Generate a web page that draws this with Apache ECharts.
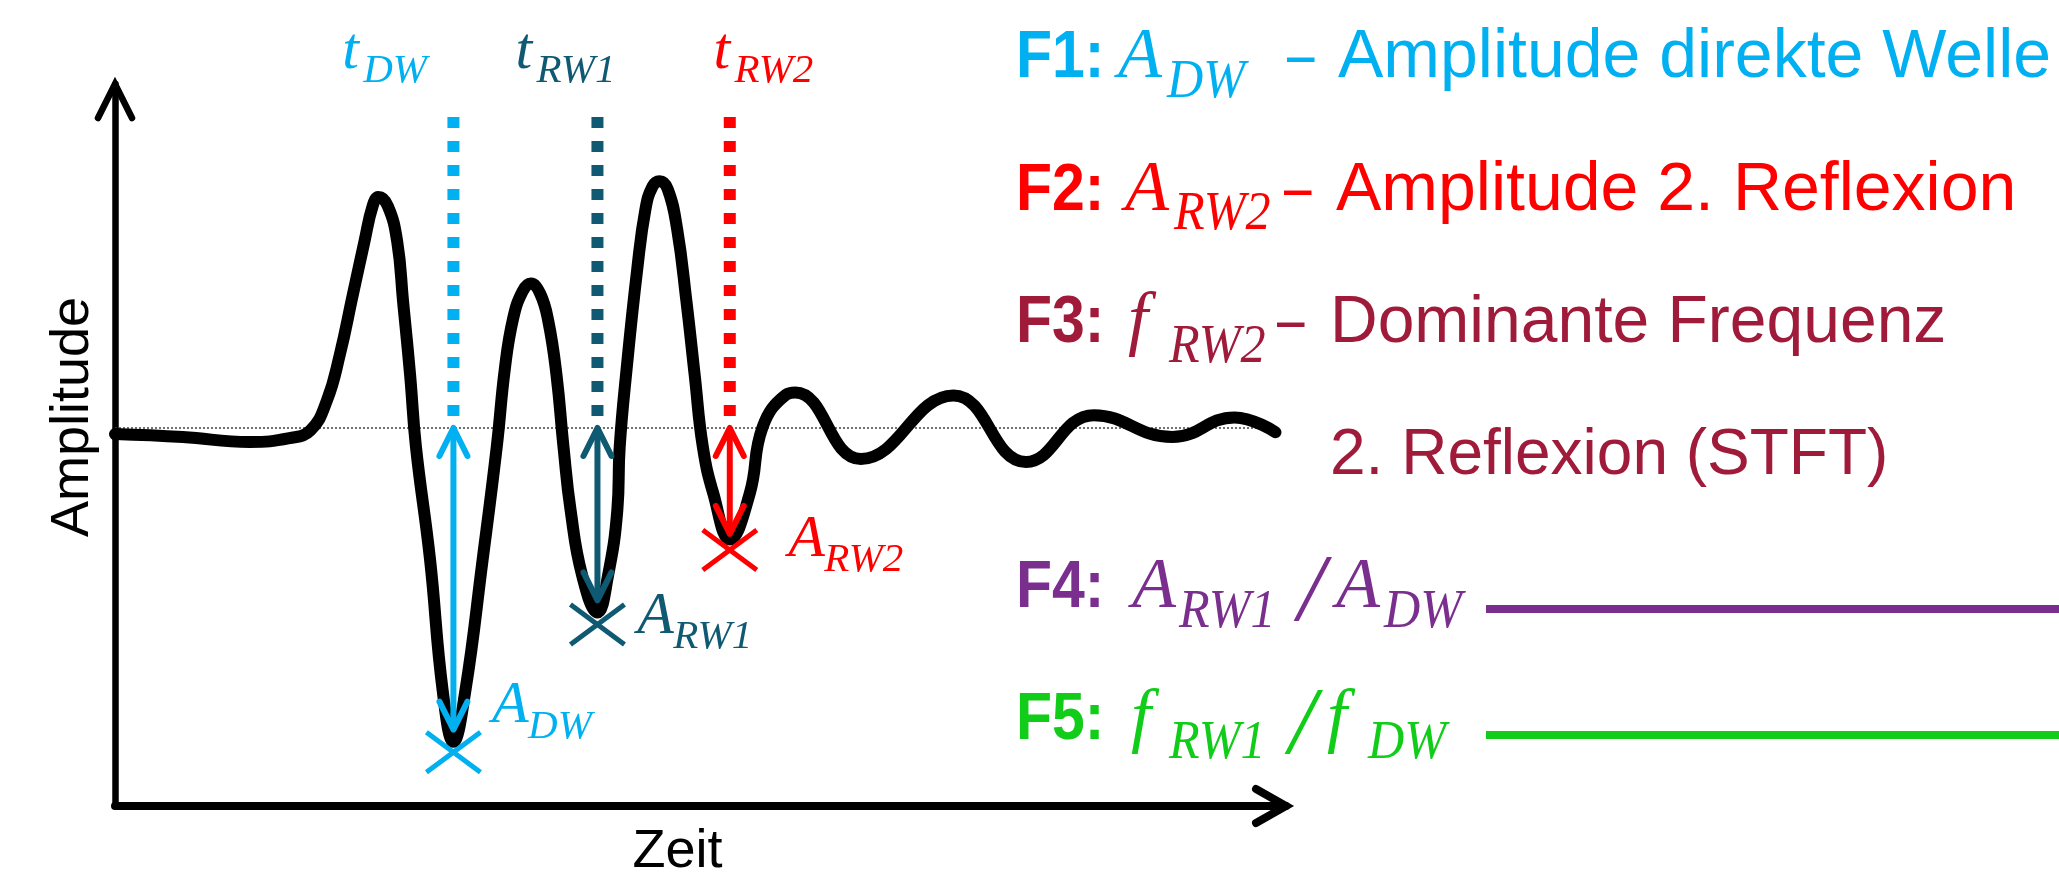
<!DOCTYPE html>
<html><head><meta charset="utf-8">
<script src="https://cdn.jsdelivr.net/npm/echarts@6/dist/echarts.min.js"></script>
<style>html,body{margin:0;padding:0;background:#fff;} #c{width:2059px;height:884px;}</style>
</head><body><div id="c"></div>
<script>
// ---- data ----
const waveTime = [0, 5.8, 11.5, 14.9, 16.7, 18.1, 19.2, 20.3, 21.3, 22.0, 22.5, 23.3, 24.1, 24.6, 25.2, 25.7, 26.9, 28.0, 28.9, 29.9, 31.4, 32.6, 33.3, 34.0, 34.8, 35.5, 36.3, 37.0, 37.7, 38.3, 38.9, 39.9, 41.2, 42.1, 42.9, 43.1, 43.7, 44.6, 45.3, 45.9, 46.5, 47.2, 48.0, 48.8, 49.5, 50.2, 51.1, 52.5, 54.2, 55.3, 57.3, 58.1, 63.7, 71.6, 77.8, 83.6, 90.3, 95.6, 99.1];
const waveAmp = [-1.6, -2.4, -3.7, -2.7, -0.6, 7.3, 19.4, 35.1, 49.3, 58.7, 61.1, 58.7, 49.3, 33.5, 14.1, -5.0, -34.7, -69.9, -83.0, -69.9, -34.7, -5.0, 15.9, 29.0, 36.1, 38.2, 35.6, 28.3, 14.1, -5.0, -21.6, -39.1, -48.8, -39.1, -21.6, -5.0, 15.9, 42.1, 57.9, 63.9, 65.3, 63.2, 52.7, 33.5, 14.1, -5.0, -17.4, -29.5, -17.4, 0.2, 8.8, 9.4, -8.2, 8.6, -9.0, 3.4, -2.4, 2.8, -1.1];
const baselineTime = [0, 99.2];
const baselineAmp = [0, 0];
const pickTime = [28.9, 41.2, 52.5];        // t_DW, t_RW1, t_RW2
const pickArrowEnd = [-79.8, -45.6, -28.0];  // amplitude arrows end
const pickMarkAmp = [-85.8, -52.0, -32.3];   // X markers
const pickTop = 82.3;
const labelMain = ['t', 't', 't', 'A', 'A', 'A'];
const labelSub = ['DW', 'RW1', 'RW2', 'DW', 'RW1', 'RW2'];
const labelTime = [19.4, 34.2, 51.1, 32.2, 44.6, 57.5];
const labelAmp = [94.1, 94.1, 94.1, -79.0, -55.4, -35.0];
const axisX = [0, 100];
const axisY = [-100, 91];

// ---- styles ----
const C_DW = '#00B0F0', C_RW1 = '#0F5A72', C_RW2 = '#FF0000', C_F3 = '#A01A3A', C_F4 = '#7A2F8E', C_F5 = '#12CC1A';
const pickColors = [C_DW, C_RW1, C_RW2];
const labelColors = [C_DW, C_RW1, C_RW2, C_DW, C_RW1, C_RW2];
const SANS = '"Liberation Sans", Arial, sans-serif';
const SERIF = '"Liberation Serif", "Times New Roman", serif';

function mid(base, size, fam) { return base - (fam === SERIF ? 0.338 : 0.347) * size; }
function txt(text, x, base, size, fam, color, styleStr, sx) {
  const f = (styleStr || 'normal normal') + ' ' + size + 'px ' + fam;
  return { type: 'text', silent: true, x: x, y: mid(base, size, fam), scaleX: sx || 1,
    style: { text: text, font: f, fill: color, align: 'left', verticalAlign: 'middle', textAlign: 'left', textVerticalAlign: 'middle' } };
}
const BOLD = 'normal bold', IT = 'italic normal', FB = 67, FBX = 0.88, SUB = 54, SUBX = 0.93, DX = 0.75;

const legend = [
  txt('F1:', 1016, 82, FB, SANS, C_DW, BOLD, FBX),
  txt('A', 1118, 82, 72, SERIF, C_DW, IT),
  txt('DW', 1167, 101, SUB, SERIF, C_DW, IT, SUBX),
  txt('–', 1287, 82, 66, SANS, C_DW, null, DX),
  txt('Amplitude direkte Welle', 1338, 82, 68, SANS, C_DW),

  txt('F2:', 1016, 215, FB, SANS, C_RW2, BOLD, FBX),
  txt('A', 1125, 215, 72, SERIF, C_RW2, IT),
  txt('RW2', 1174, 233, SUB, SERIF, C_RW2, IT, SUBX),
  txt('–', 1284, 215, 66, SANS, C_RW2, null, DX),
  txt('Amplitude 2. Reflexion', 1336, 215, 68, SANS, C_RW2),

  txt('F3:', 1016, 347, FB, SANS, C_F3, BOLD, FBX),
  txt('f', 1128, 347, 72, SERIF, C_F3, IT),
  txt('RW2', 1169, 366, SUB, SERIF, C_F3, IT, SUBX),
  txt('–', 1277, 347, 66, SANS, C_F3, null, DX),
  txt('Dominante Frequenz', 1330, 347, 66, SANS, C_F3),
  txt('2. Reflexion (STFT)', 1330, 479, 64, SANS, C_F3),

  txt('F4:', 1016, 612, FB, SANS, C_F4, BOLD, FBX),
  txt('A', 1132, 612, 72, SERIF, C_F4, IT),
  txt('RW1', 1179, 631, SUB, SERIF, C_F4, IT, SUBX),
  txt('/', 1298, 627, 96, SERIF, C_F4, IT),
  txt('A', 1336, 612, 72, SERIF, C_F4, IT),
  txt('DW', 1384, 631, SUB, SERIF, C_F4, IT, SUBX),
  { type: 'line', silent: true, shape: { x1: 1486, y1: 609, x2: 2059, y2: 609 }, style: { stroke: C_F4, lineWidth: 8 } },

  txt('F5:', 1016, 744, FB, SANS, C_F5, BOLD, FBX),
  txt('f', 1131, 744, 72, SERIF, C_F5, IT),
  txt('RW1', 1169, 762, SUB, SERIF, C_F5, IT, SUBX),
  txt('/', 1289, 760, 96, SERIF, C_F5, IT),
  txt('f', 1327, 744, 72, SERIF, C_F5, IT),
  txt('DW', 1368, 762, SUB, SERIF, C_F5, IT, SUBX),
  { type: 'line', silent: true, shape: { x1: 1486, y1: 735, x2: 2059, y2: 735 }, style: { stroke: C_F5, lineWidth: 8 } }
];

const chart = echarts.init(document.getElementById('c'));
chart.setOption({
  animation: false,
  backgroundColor: '#fff',
  grid: { left: 115, right: 773, top: 84, bottom: 72 },
  xAxis: {
    type: 'value', min: axisX[0], max: axisX[1],
    axisLine: { show: true, onZero: false, lineStyle: { color: '#000', width: 8 } },
    axisTick: { show: false }, axisLabel: { show: false }, splitLine: { show: false },
    name: 'Zeit', nameLocation: 'middle', nameGap: 19,
    nameTextStyle: { fontFamily: SANS, fontSize: 54, color: '#000', padding: [0, 46, 0, 0] }
  },
  yAxis: {
    type: 'value', min: axisY[0], max: axisY[1],
    axisLine: { show: true, onZero: false, lineStyle: { color: '#000', width: 6.5 } },
    axisTick: { show: false }, axisLabel: { show: false }, splitLine: { show: false },
    name: 'Amplitude', nameLocation: 'middle', nameGap: 15, nameRotate: 90,
    nameTextStyle: { fontFamily: SANS, fontSize: 54, color: '#000', padding: [0, 0, 0, 56] }
  },
  graphic: legend,
  series: [
    { type: 'line', z: 1, silent: true, showSymbol: false,
      data: baselineTime.map((t, i) => [t, baselineAmp[i]]),
      lineStyle: { color: '#444', width: 1.5, type: [2, 2] } },
    { type: 'line', z: 2, silent: true, showSymbol: false, smooth: 0.45,
      data: waveTime.map((t, i) => [t, waveAmp[i]]),
      lineStyle: { color: '#000', width: 12, cap: 'round', join: 'round' } },
    { type: 'custom', z: 3, silent: true, clip: false,
      data: pickTime.map((t, i) => [t, pickArrowEnd[i], pickMarkAmp[i]]),
      encode: { x: 0, y: 1 },
      renderItem: function (params, api) {
        const i = params.dataIndex, t = api.value(0);
        const top = api.coord([t, pickTop]);
        const base = api.coord([t, 0]);
        const tip = api.coord([t, api.value(1)]);
        const mk = api.coord([t, api.value(2)]);
        const c = pickColors[i], aw = 14, ah = 28, mx = 27, my = 20;
        const head = { stroke: c, fill: null, lineWidth: 6, lineCap: 'round', lineJoin: 'round' };
        return { type: 'group', children: [
          { type: 'line', shape: { x1: top[0], y1: top[1], x2: base[0], y2: base[1] - 3 }, style: { stroke: c, lineWidth: 12, lineDash: [11, 13] } },
          { type: 'line', shape: { x1: base[0], y1: base[1], x2: tip[0], y2: tip[1] }, style: { stroke: c, lineWidth: 6 } },
          { type: 'polyline', shape: { points: [[base[0] - aw, base[1] + ah], [base[0], base[1]], [base[0] + aw, base[1] + ah]] }, style: head },
          { type: 'polyline', shape: { points: [[tip[0] - aw, tip[1] - ah], [tip[0], tip[1]], [tip[0] + aw, tip[1] - ah]] }, style: head },
          { type: 'line', shape: { x1: mk[0] - mx, y1: mk[1] - my, x2: mk[0] + mx, y2: mk[1] + my }, style: { stroke: c, lineWidth: 5 } },
          { type: 'line', shape: { x1: mk[0] - mx, y1: mk[1] + my, x2: mk[0] + mx, y2: mk[1] - my }, style: { stroke: c, lineWidth: 5 } }
        ] };
      } },
    { type: 'custom', z: 4, silent: true, clip: false,
      data: labelTime.map((t, i) => [t, labelAmp[i]]),
      encode: { x: 0, y: 1 },
      renderItem: function (params, api) {
        const i = params.dataIndex;
        const p = api.coord([api.value(0), api.value(1)]);
        const m = labelMain[i], c = labelColors[i];
        const off = m === 't' ? [21, 13] : [36, 14];
        const mk = (text, x, base, size) => ({ type: 'text', x: x, y: mid(base, size, SERIF),
          style: { text: text, font: 'italic normal ' + size + 'px ' + SERIF, fill: c, align: 'left', verticalAlign: 'middle', textAlign: 'left', textVerticalAlign: 'middle' } });
        return { type: 'group', children: [
          mk(m, p[0], p[1], 60),
          mk(labelSub[i], p[0] + off[0], p[1] + off[1], 41)
        ] };
      } },
    { type: 'custom', z: 5, silent: true, clip: false,
      data: [[axisX[0], axisY[1]], [axisX[1], axisY[0]]],
      encode: { x: 0, y: 1 },
      renderItem: function (params, api) {
        const p = api.coord([api.value(0), api.value(1)]);
        const up = params.dataIndex === 0;
        const pts = up ? [[p[0] - 17, p[1] + 34], [p[0], p[1]], [p[0] + 17, p[1] + 34]]
                       : [[p[0] - 30, p[1] - 17], [p[0], p[1]], [p[0] - 30, p[1] + 17]];
        return { type: 'polyline', shape: { points: pts }, style: { stroke: '#000', fill: null, lineWidth: up ? 6.5 : 8, lineCap: 'round', lineJoin: 'miter' } };
      } }
  ]
});
</script></body></html>
